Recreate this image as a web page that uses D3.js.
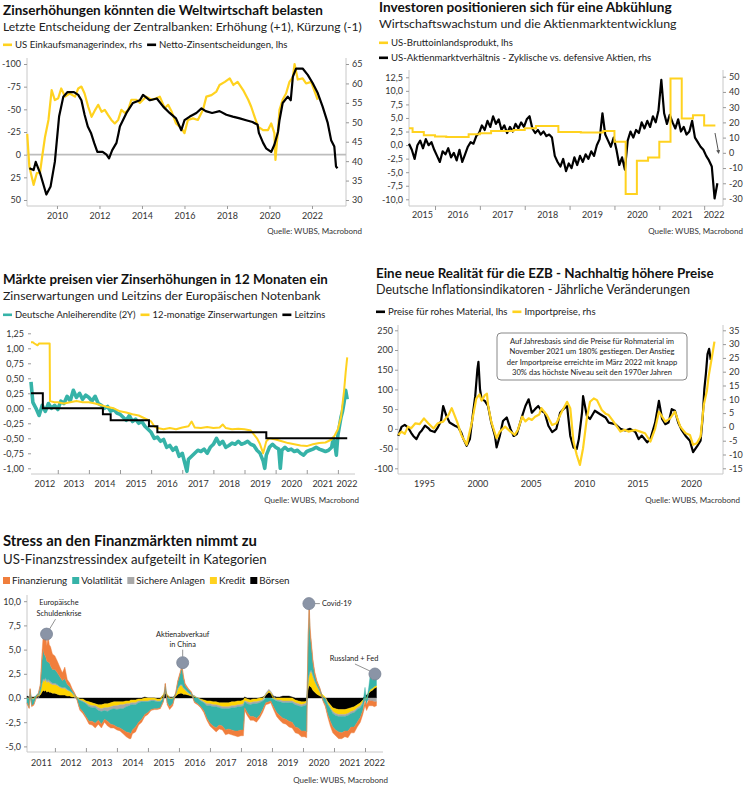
<!DOCTYPE html>
<html><head><meta charset="utf-8">
<script src="https://cdn.jsdelivr.net/npm/d3@7"></script>
<style>
body{margin:0;background:#fff;}
svg{font-family:Lato,"Noto Sans",sans-serif;}
</style></head><body>
<svg id="c" width="750" height="788"></svg>
<script>
// ---------------- DATA ----------------
// Panel 1: [year, value]
const pmi = [[2008.6,47],[2008.7,38.6],[2008.9,33.9],[2009.05,36.9],[2009.2,37],[2009.3,41],[2009.44,46.3],[2009.6,50.6],[2009.75,58.3],[2009.9,55.7],[2010.06,56.2],[2010.2,58.7],[2010.38,56.6],[2010.6,57.4],[2010.85,56.6],[2011.0,58.7],[2011.15,59.2],[2011.3,57.4],[2011.47,54],[2011.63,51.4],[2011.8,53.2],[2011.94,54.5],[2012.1,52.7],[2012.25,53.2],[2012.4,51.9],[2012.56,50.6],[2012.72,49.7],[2012.88,50.6],[2013.03,53.2],[2013.2,52.4],[2013.35,53.2],[2013.5,55.8],[2013.74,55.8],[2013.9,55],[2014.05,55.8],[2014.2,56.6],[2014.45,55.8],[2014.68,56.2],[2014.84,56.6],[2015.07,53.6],[2015.23,54.5],[2015.4,52.7],[2015.6,49.7],[2015.85,48.5],[2016.0,47.2],[2016.16,50.6],[2016.4,51],[2016.63,50.6],[2016.87,53.2],[2017.03,56.6],[2017.27,57],[2017.5,57.9],[2017.65,59.6],[2017.9,60.4],[2018.13,61.3],[2018.3,59.6],[2018.5,60.4],[2018.76,58.3],[2019.0,55.8],[2019.14,54],[2019.3,51.4],[2019.46,48.9],[2019.7,48],[2019.93,48],[2020.08,49.7],[2020.23,47.2],[2020.28,40.3],[2020.4,48],[2020.47,53.2],[2020.62,55.8],[2020.78,57.4],[2020.94,60.4],[2021.1,61.6],[2021.18,65],[2021.33,61],[2021.56,61.3],[2021.72,60],[2021.96,60.4],[2022.1,58.3],[2022.27,55.8]];
const netRate = [[2008.7,15],[2008.9,17],[2009.0,8],[2009.2,20],[2009.5,44],[2009.7,35],[2009.9,8],[2010.1,-42],[2010.3,-64],[2010.5,-69],[2010.8,-69],[2011.0,-66],[2011.15,-60],[2011.3,-44],[2011.45,-31],[2011.6,-24],[2011.75,-13],[2011.9,-3],[2012.15,-3],[2012.33,0],[2012.45,4],[2012.55,-2],[2012.6,-5],[2012.8,-13],[2012.9,-24],[2012.96,-31],[2013.27,-46],[2013.57,-57],[2013.9,-60],[2014.05,-66],[2014.37,-60],[2014.7,-62],[2015.0,-53],[2015.3,-46],[2015.6,-40],[2015.85,-27],[2016.0,-38],[2016.25,-42],[2016.56,-46],[2016.8,-51],[2017.0,-48],[2017.3,-46],[2017.65,-48],[2017.97,-44],[2018.27,-42],[2018.6,-40],[2018.9,-38],[2019.2,-36],[2019.44,-33],[2019.5,-24],[2019.7,-13],[2019.84,-7],[2020.08,-3],[2020.23,-11],[2020.4,-25],[2020.47,-38],[2020.62,-57],[2020.86,-64],[2021.0,-60],[2021.1,-86],[2021.25,-95],[2021.56,-95],[2021.8,-88],[2022.03,-79],[2022.27,-68],[2022.5,-53],[2022.74,-35],[2022.9,-16],[2023.05,-9],[2023.13,13],[2023.2,15]];

// Panel 2
const gdpDates = [2015.42,2015.5,2015.75,2016.0,2016.25,2016.5,2016.75,2017.0,2017.25,2017.5,2017.75,2018.0,2018.25,2018.5,2018.75,2019.0,2019.25,2019.5,2019.75,2020.0,2020.25,2020.5,2020.75,2021.0,2021.25,2021.5,2021.75,2022.0,2022.25];
const gdpValues = [3.1,2.4,1.8,1.6,1.5,1.5,2.0,2.2,2.6,2.6,2.8,3.1,3.5,3.5,2.4,2.4,2.3,2.3,2.6,0.6,-9.0,-2.9,-2.3,0.6,12.3,4.9,5.5,3.6,3.6];
const cycStart = 2015.42, cycStep = 0.0625;
const cycValues = [6,2,-4,5,8,3,9,5,7,2,-2,-6,1,-1,3,-3,0,-5,2,-6,-1,4,7,6,11,13,18,15,21,17,24,19,22,15,18,13,17,14,19,16,20,17,22,24,16,13,15,12,14,11,12,10,-2,-6,-9,-4,-12,-7,-10,-3,-8,-2,-6,-1,-4,1,-2,5,9,26,12,8,4,10,2,-8,-3,-11,8,14,10,15,13,20,16,21,17,24,20,28,48,26,19,25,20,16,22,14,17,12,14,21,10,7,4,2,-2,-5,-9,-30,-20];

// Panel 3
const bund2y = [[2012.14,0.44],[2012.2,0.10],[2012.3,0.0],[2012.4,-0.12],[2012.5,0.05],[2012.6,-0.05],[2012.7,0.08],[2012.8,0.0],[2012.9,0.05],[2013.0,-0.02],[2013.1,0.12],[2013.2,0.08],[2013.3,0.2],[2013.4,0.12],[2013.5,0.3],[2013.6,0.18],[2013.7,0.25],[2013.8,0.15],[2013.9,0.22],[2014.0,0.18],[2014.1,0.12],[2014.2,0.2],[2014.3,0.08],[2014.4,0.05],[2014.5,0.0],[2014.6,0.03],[2014.7,-0.05],[2014.8,-0.02],[2014.9,-0.08],[2015.0,-0.1],[2015.1,-0.15],[2015.2,-0.2],[2015.3,-0.12],[2015.4,-0.22],[2015.5,-0.18],[2015.6,-0.25],[2015.7,-0.22],[2015.8,-0.3],[2015.9,-0.35],[2016.0,-0.4],[2016.1,-0.5],[2016.2,-0.48],[2016.3,-0.55],[2016.4,-0.52],[2016.5,-0.65],[2016.6,-0.62],[2016.7,-0.7],[2016.8,-0.65],[2016.9,-0.8],[2017.0,-0.75],[2017.1,-0.95],[2017.15,-1.05],[2017.2,-0.85],[2017.3,-0.8],[2017.4,-0.75],[2017.5,-0.7],[2017.6,-0.72],[2017.7,-0.68],[2017.8,-0.75],[2017.9,-0.65],[2018.0,-0.6],[2018.1,-0.5],[2018.2,-0.6],[2018.3,-0.55],[2018.4,-0.65],[2018.5,-0.62],[2018.6,-0.58],[2018.7,-0.6],[2018.8,-0.55],[2018.9,-0.6],[2019.0,-0.58],[2019.1,-0.55],[2019.2,-0.6],[2019.3,-0.62],[2019.4,-0.7],[2019.5,-0.75],[2019.6,-0.88],[2019.65,-1.0],[2019.7,-0.78],[2019.8,-0.65],[2019.9,-0.6],[2020.0,-0.65],[2020.1,-0.68],[2020.15,-1.0],[2020.2,-0.7],[2020.3,-0.65],[2020.4,-0.7],[2020.5,-0.68],[2020.6,-0.72],[2020.7,-0.7],[2020.8,-0.75],[2020.9,-0.78],[2021.0,-0.72],[2021.1,-0.7],[2021.2,-0.68],[2021.3,-0.65],[2021.4,-0.68],[2021.5,-0.7],[2021.6,-0.72],[2021.7,-0.7],[2021.8,-0.65],[2021.85,-0.5],[2021.9,-0.6],[2021.95,-0.78],[2022.0,-0.45],[2022.05,-0.3],[2022.1,-0.15],[2022.15,-0.05],[2022.2,0.1],[2022.25,0.3],[2022.3,0.15]];
const rateExp = [[2012.14,1.1],[2012.2,1.1],[2012.25,1.08],[2012.35,1.05],[2012.4,1.08],[2012.5,1.08],[2012.6,1.08],[2012.74,1.08],[2012.75,0.12],[2012.9,0.1],[2013.0,0.1],[2013.2,0.08],[2013.4,0.1],[2013.6,0.12],[2013.8,0.1],[2014.0,0.1],[2014.2,0.08],[2014.4,0.05],[2014.6,0.02],[2014.8,0.0],[2015.0,-0.05],[2015.2,-0.07],[2015.4,-0.1],[2015.6,-0.12],[2015.8,-0.17],[2016.0,-0.22],[2016.1,-0.3],[2016.2,-0.33],[2016.4,-0.35],[2016.6,-0.33],[2016.8,-0.35],[2017.0,-0.32],[2017.2,-0.3],[2017.3,-0.22],[2017.4,-0.32],[2017.6,-0.33],[2017.8,-0.31],[2018.0,-0.33],[2018.2,-0.32],[2018.3,-0.27],[2018.4,-0.33],[2018.6,-0.35],[2018.8,-0.34],[2019.0,-0.35],[2019.2,-0.37],[2019.4,-0.5],[2019.5,-0.6],[2019.6,-0.75],[2019.7,-0.55],[2019.8,-0.5],[2020.0,-0.52],[2020.2,-0.55],[2020.4,-0.58],[2020.6,-0.6],[2020.8,-0.62],[2021.0,-0.63],[2021.2,-0.6],[2021.4,-0.58],[2021.6,-0.57],[2021.8,-0.52],[2021.9,-0.45],[2022.0,-0.35],[2022.1,-0.15],[2022.2,0.3],[2022.25,0.6],[2022.3,0.85]];
const policyRate = [[2012.14,0.25],[2012.52,0.0],[2014.45,-0.1],[2014.7,-0.2],[2015.93,-0.3],[2016.2,-0.4],[2019.7,-0.5],[2022.3,-0.5]];

// Panel 4
const rawMat = [[1992.6,-18],[1992.9,5],[1993.2,10],[1993.5,4],[1993.8,-10],[1994.0,-18],[1994.3,-26],[1994.6,-10],[1994.8,-4],[1995.1,8],[1995.4,2],[1995.6,-4],[1996.0,-8],[1996.3,4],[1996.6,20],[1996.8,58],[1997.1,33],[1997.4,16],[1997.9,8],[1998.2,4],[1998.5,-10],[1998.7,-26],[1999.0,-43],[1999.3,-26],[1999.6,41],[1999.8,83],[2000.0,150],[2000.1,170],[2000.25,100],[2000.4,75],[2000.7,71],[2001.0,58],[2001.3,16],[2001.65,-18],[2001.8,-47],[2002.1,-18],[2002.4,20],[2002.75,29],[2003.1,0],[2003.4,-18],[2003.7,-13],[2004.2,33],[2004.5,58],[2004.8,75],[2005.1,41],[2005.4,50],[2005.7,58],[2006.0,46],[2006.3,41],[2006.65,8],[2007.0,-8],[2007.4,0],[2007.75,41],[2008.05,50],[2008.4,58],[2008.7,-18],[2009.0,-47],[2009.3,-51],[2009.5,-26],[2009.8,41],[2009.9,83],[2010.25,33],[2010.55,25],[2011.0,46],[2011.5,37],[2012.0,29],[2012.3,16],[2012.9,12],[2013.4,0],[2013.85,-4],[2014.3,0],[2014.8,-8],[2015.1,-26],[2015.4,-17],[2015.9,-34],[2016.2,-26],[2016.65,16],[2017.0,71],[2017.3,25],[2017.6,12],[2017.9,16],[2018.2,50],[2018.5,46],[2018.8,16],[2019.15,-4],[2019.5,-18],[2019.9,-30],[2020.2,-59],[2020.6,-43],[2020.9,-30],[2021.1,30],[2021.25,100],[2021.4,140],[2021.55,190],[2021.7,203],[2021.85,175]];
const importPrices = [[1992.6,-2.9],[1992.9,-1.7],[1993.2,-2.5],[1993.5,0.1],[1993.8,-0.5],[1994.2,1.3],[1994.6,1.0],[1995.0,3.1],[1995.4,1.3],[1995.9,-0.6],[1996.3,1.3],[1996.8,1.9],[1997.3,4.3],[1997.6,6.8],[1998.1,1.9],[1998.5,-2.9],[1999.0,-6.5],[1999.5,1.9],[1999.9,10.3],[2000.2,11.8],[2000.4,9.5],[2000.7,11.5],[2000.9,12.0],[2001.0,7.9],[2001.3,1.9],[2001.8,-4.1],[2002.1,-1.7],[2002.6,0.1],[2003.1,-1.7],[2003.5,-2.9],[2003.8,-1.0],[2004.2,3.7],[2004.5,2.0],[2004.8,3.1],[2005.1,2.5],[2005.4,3.7],[2005.8,4.5],[2006.0,6.8],[2006.5,4.3],[2007.0,0.7],[2007.4,1.3],[2007.9,5.5],[2008.4,9.1],[2008.7,6.8],[2009.0,-5.3],[2009.3,-10.1],[2009.6,-13.8],[2009.9,-7.7],[2010.25,3.1],[2010.55,9.1],[2010.9,10.3],[2011.2,9.7],[2011.65,6.1],[2012.0,4.8],[2012.3,4.3],[2012.75,1.9],[2013.4,-1.7],[2013.8,-1.0],[2014.15,-1.7],[2014.8,-1.1],[2015.25,-1.7],[2015.7,-2.3],[2016.2,-5.3],[2016.65,-0.6],[2017.0,5.5],[2017.3,3.7],[2017.6,1.9],[2018.05,3.1],[2018.5,5.5],[2019.0,0.1],[2019.5,-2.3],[2019.9,-2.9],[2020.2,-6.5],[2020.55,-5.9],[2020.9,-3.5],[2021.2,7.9],[2021.5,13.3],[2021.65,18.2],[2021.95,25],[2022.2,30.9]];

// Panel 5: stacked categories
const stressKeys = ["Börsen","Kredit","Sichere Anlagen","Volatilität","Finanzierung"];
const stressDates = [2011.10,2011.17,2011.20,2011.25,2011.32,2011.40,2011.47,2011.53,2011.58,2011.62,2011.66,2011.70,2011.74,2011.78,2011.82,2011.86,2011.92,2012.00,2012.08,2012.16,2012.24,2012.32,2012.40,2012.48,2012.56,2012.64,2012.72,2012.80,2012.90,2013.00,2013.10,2013.20,2013.30,2013.40,2013.50,2013.60,2013.70,2013.80,2013.90,2014.00,2014.10,2014.20,2014.30,2014.40,2014.45,2014.50,2014.60,2014.70,2014.80,2014.90,2015.00,2015.10,2015.20,2015.30,2015.40,2015.50,2015.56,2015.62,2015.70,2015.80,2015.90,2015.96,2016.04,2016.10,2016.14,2016.20,2016.30,2016.40,2016.50,2016.60,2016.70,2016.80,2016.90,2017.00,2017.10,2017.20,2017.30,2017.40,2017.50,2017.60,2017.70,2017.80,2017.90,2018.00,2018.08,2018.12,2018.20,2018.30,2018.40,2018.50,2018.60,2018.70,2018.80,2018.90,2018.96,2019.05,2019.15,2019.25,2019.35,2019.45,2019.55,2019.65,2019.75,2019.85,2019.95,2020.05,2020.12,2020.14,2020.17,2020.20,2020.23,2020.27,2020.32,2020.38,2020.45,2020.55,2020.65,2020.72,2020.80,2020.88,2020.96,2021.05,2021.15,2021.25,2021.35,2021.45,2021.55,2021.65,2021.75,2021.85,2021.93,2022.00,2022.05,2022.12,2022.18,2022.24,2022.30,2022.37];
const boersen = [0.2,0.1,0.1,0.1,0.1,0.15,0.2,0.3,0.6,0.8,0.7,0.8,0.6,0.7,0.6,0.6,0.5,0.5,0.4,0.3,0.3,0.3,0.2,0.2,0.1,0.1,0.0,-0.1,-0.1,-0.3,-0.4,-0.5,-0.6,-0.7,-0.7,-0.6,-0.6,-0.5,-0.4,-0.4,-0.4,-0.4,-0.3,-0.3,-0.2,-0.2,-0.2,-0.1,-0.1,0.1,0,0,0,-0.1,-0.1,0.3,0.5,0.3,0.1,0.1,0.2,0.4,0.5,0.5,0.4,0.4,0.3,0.2,0.1,0,-0.1,-0.2,-0.3,-0.3,-0.4,-0.4,-0.5,-0.5,-0.5,-0.5,-0.4,-0.4,-0.3,-0.3,-0.2,0.1,-0.1,-0.2,-0.1,-0.1,0,0.1,0.3,0.6,0.5,0.2,0.1,0.1,0.2,0.2,0.2,0.1,-0.2,-0.3,-0.4,-0.4,-0.3,0.3,1.0,1.3,1.2,1.1,0.8,0.6,0.4,0.2,0.1,-0.1,-0.4,-0.7,-1.0,-1.1,-1.2,-1.2,-1.2,-1.1,-1.0,-0.9,-0.7,-0.5,-0.2,0.2,0.3,0.5,0.7,0.8,1.0,1.1];
const kredit = [0,-0.1,0,-0.1,-0.1,0.05,0.1,0.3,0.8,1.0,1.0,1.1,1.0,1.0,1.0,0.9,0.9,0.9,0.9,0.8,0.7,0.7,0.6,0.5,0.4,0.2,0.1,-0.1,-0.2,-0.2,-0.3,-0.3,-0.2,-0.3,-0.4,-0.4,-0.4,-0.4,-0.4,-0.4,-0.3,-0.3,-0.3,-0.3,-0.3,-0.3,-0.3,-0.2,-0.2,-0.3,-0.3,-0.2,-0.2,-0.2,-0.2,0.1,0.3,0.1,-0.1,-0.1,0.2,0.5,0.8,0.8,0.6,0.4,0.2,0.1,0.1,0,-0.1,-0.2,-0.3,-0.3,-0.3,-0.3,-0.3,-0.4,-0.4,-0.4,-0.4,-0.4,-0.4,-0.4,-0.4,-0.3,-0.3,-0.3,-0.3,-0.3,-0.3,-0.2,0.1,0.2,0.1,-0.1,-0.2,-0.2,-0.3,-0.3,-0.3,-0.3,-0.3,-0.3,-0.3,-0.2,-0.2,0.3,0.8,1.0,1.4,1.6,1.4,1.1,0.8,0.4,0.2,0.1,-0.2,-0.3,-0.4,-0.5,-0.5,-0.5,-0.5,-0.5,-0.4,-0.4,-0.3,-0.3,-0.2,-0.1,-0.1,0.1,0.2,0.2,0.2,0.2];
const sichere = [0,0,0,0,-0.05,0,0,0.05,0.15,0.2,0.2,0.2,0.2,0.2,0.2,0.2,0.15,0.15,0.1,0.1,0.1,0.1,0.1,0.05,0.05,0,0,-0.05,-0.1,-0.1,-0.2,-0.2,-0.2,-0.3,-0.3,-0.3,-0.4,-0.3,-0.3,-0.4,-0.4,-0.4,-0.3,-0.2,-0.2,-0.2,-0.2,-0.2,-0.1,-0.1,-0.1,-0.1,-0.1,-0.1,-0.1,0,0.05,0,0,0,0.05,0.1,0.1,0.1,0.1,0.1,0.1,0.05,0.05,0,-0.1,-0.1,-0.2,-0.2,-0.2,-0.2,-0.2,-0.2,-0.2,-0.2,-0.2,-0.2,-0.2,-0.2,-0.2,-0.1,-0.2,-0.2,-0.2,-0.2,-0.2,-0.1,0.1,0.1,0.1,0.05,-0.1,-0.2,-0.2,-0.2,-0.2,-0.2,-0.2,-0.2,-0.2,-0.2,-0.2,0.1,0.2,0.2,0.2,0.2,0.2,0.1,0.1,0.1,0,0,-0.1,-0.1,-0.2,-0.2,-0.2,-0.2,-0.2,-0.2,-0.2,-0.2,-0.2,-0.2,-0.2,-0.2,-0.2,-0.2,-0.3,-0.3,-0.4,-0.4];
const volatil = [-0.5,-0.9,0.8,-0.7,-0.5,0.1,0.2,0.6,2.2,3.0,2.6,2.2,2.0,1.8,1.9,1.6,1.4,1.4,1.2,1.0,0.7,0.9,0.5,0.4,0.2,0.1,-0.2,-0.8,-1.0,-1.3,-1.5,-1.4,-1.6,-1.0,-1.3,-0.9,-1.0,-1.5,-1.7,-1.8,-2.0,-2.2,-2.6,-2.8,-3.0,-2.6,-2.3,-2.0,-1.8,-1.3,-1.1,-0.9,-0.8,-0.7,-0.6,-0.3,0.6,-0.5,-0.8,-0.5,0.1,0.6,1.1,1.8,1.0,0.4,0.3,0.2,-0.4,-0.6,-0.6,-0.8,-1.3,-1.8,-2.0,-2.2,-1.8,-1.8,-2.2,-2.1,-2.3,-2.4,-2.5,-2.4,-2.5,-0.6,-0.9,-1.2,-1.3,-1.5,-1.3,-0.9,-0.5,-0.4,-0.3,-0.8,-1.2,-1.4,-1.6,-1.7,-1.9,-2.0,-2.3,-2.3,-2.5,-2.6,-2.8,1.0,4.5,6.7,3.8,2.4,1.2,0.6,0.3,0.2,-0.3,-0.6,-1.0,-1.3,-1.4,-1.5,-1.6,-1.7,-1.5,-1.6,-1.4,-1.5,-1.3,-1.0,-0.7,0.9,-0.4,0.5,1.8,0.8,1.5,1.3];
const finanz = [-0.1,-0.1,0.1,-0.1,-0.1,0,0.05,0.2,0.8,1.4,1.6,2.4,1.6,2.7,1.8,2.0,1.6,1.4,1.2,1.0,0.8,1.2,0.5,0.4,0.2,0.1,-0.1,-0.2,-0.2,-0.2,-0.3,-0.4,-0.5,-0.4,-0.4,-0.3,-0.5,-0.4,-0.3,-0.3,-0.3,-0.4,-0.5,-0.6,-0.5,-0.4,-0.5,-0.3,-0.3,-0.2,-0.2,-0.1,-0.1,-0.1,-0.1,-0.1,0.1,-0.2,-0.3,-0.2,0.1,0.2,0.2,0.2,0.3,0.2,0.1,0.1,-0.1,-0.1,-0.1,-0.2,-0.2,-0.3,-0.3,-0.4,-0.4,-0.4,-0.5,-0.5,-0.5,-0.5,-0.6,-0.6,-0.6,-0.3,-0.3,-0.4,-0.4,-0.4,-0.3,-0.3,-0.2,-0.2,-0.2,-0.3,-0.4,-0.5,-0.5,-0.5,-0.6,-0.6,-0.6,-0.6,-0.6,-0.6,-0.6,0.3,0.5,0.5,0.6,0.5,0.4,0.3,0.2,0.1,-0.1,-0.2,-0.3,-0.5,-0.6,-0.6,-0.7,-0.6,-0.6,-0.7,-0.6,-0.6,-0.5,-0.5,-0.4,-0.5,-0.6,-0.6,-0.5,-0.5,-0.5,-0.4];

// ---------------- STYLE ----------------
const C = {yellow:"#FFD21F", black:"#000", teal:"#36B3A8", orange:"#F07E3C", gray:"#A8A8A8", axis:"#C8C8C8", text:"#333"};
const loc = d3.formatLocale({decimal:",",thousands:".",grouping:[3],currency:["","€"],minus:"-"});
const f0 = loc.format("d"), f1 = loc.format(".1f"), f2 = loc.format(".2f");
const svg = d3.select("#c");
svg.append("rect").attr("width",750).attr("height",788).attr("fill","#fff");

function txt(x,y,s,size,opt={}){
  const t = svg.append("text").attr("x",x).attr("y",y).attr("font-size",size)
    .attr("font-weight",opt.weight||"normal").attr("fill",opt.fill||"#111")
    .attr("text-anchor",opt.anchor||"start").text(s);
  if(opt.fit){ const w=t.node().getComputedTextLength(); t.attr("font-size",size*opt.fit/w); }
  return t;
}
function legend(items,x,y,size,kind){
  let cx=x;
  items.forEach(it=>{
    if(kind==="square"){ svg.append("rect").attr("x",cx).attr("y",y-7).attr("width",7).attr("height",7).attr("fill",it.color); cx+=9; }
    else { svg.append("line").attr("x1",cx).attr("x2",cx+9).attr("y1",y-3.2).attr("y2",y-3.2).attr("stroke",it.color).attr("stroke-width",2.6); cx+=12; }
    const t=svg.append("text").attr("x",cx).attr("y",y).attr("font-size",size).attr("fill","#222").text(it.label);
    cx+=t.node().getComputedTextLength()+5;
  });
}
function styleAxis(g,size){
  g.select(".domain").remove();
  g.selectAll(".tick line").attr("stroke","#999");
  g.selectAll(".tick text").attr("font-size",size).attr("fill",C.text).attr("font-family","Lato");
}
function vline(x,y1,y2){ svg.append("line").attr("x1",x).attr("x2",x).attr("y1",y1).attr("y2",y2).attr("stroke",C.axis).attr("stroke-width",1); }
function hline(y,x1,x2){ svg.append("line").attr("x1",x1).attr("x2",x2).attr("y1",y).attr("y2",y).attr("stroke",C.axis).attr("stroke-width",1); }
function yearAxis(x, y0, d0, d1, tickSize, labelY, size){
  const bounds=d3.range(Math.ceil(d0),Math.floor(d1)+1);
  const gt=svg.append("g").attr("transform",`translate(0,${y0})`).call(d3.axisBottom(x).tickValues(bounds).tickSize(tickSize).tickFormat(""));
  styleAxis(gt,size);
  const mids=d3.range(Math.floor(d0),Math.floor(d1)+1).map(yr=>(Math.max(yr,d0)+Math.min(yr+1,d1))/2);
  const gl=svg.append("g").attr("transform",`translate(0,${labelY})`).call(d3.axisBottom(x).tickValues(mids).tickSize(0).tickPadding(0).tickFormat(v=>String(Math.floor(v))));
  styleAxis(gl,size);
}
function source(xr,y){ txt(xr,y,"Quelle: WUBS, Macrobond",8,{anchor:"end",fill:"#333"}); }
const TICK=9;

// ================= PANEL 1 =================
txt(3,15,"Zinserhöhungen könnten die Weltwirtschaft belasten",14,{weight:"bold",fit:320});
txt(3,31,"Letzte Entscheidung der Zentralbanken: Erhöhung (+1), Kürzung (-1)",12.5,{fit:359,fill:"#222"});
legend([{label:"US Einkaufsmanagerindex, rhs",color:C.yellow},{label:"Netto-Zinsentscheidungen, lhs",color:C.black}],3,48,9.6,"line");
{
  const x=d3.scaleLinear().domain([2008.59,2023.6]).range([27,346]);
  const yL=d3.scaleLinear().domain([-100,50]).range([64,200]);
  const yR=d3.scaleLinear().domain([65,30]).range([64,200]);
  vline(27,58,206); vline(346,58,206); hline(206,27,346);
  svg.append("line").attr("x1",27).attr("x2",346).attr("y1",yL(0)).attr("y2",yL(0)).attr("stroke","#BDBDBD").attr("stroke-width",1.8);
  styleAxis(svg.append("g").attr("transform","translate(27,0)").call(d3.axisLeft(yL).tickValues([-100,-75,-50,-25,0,25,50]).tickFormat(f0).tickSize(3).tickPadding(3)),TICK);
  styleAxis(svg.append("g").attr("transform","translate(346,0)").call(d3.axisRight(yR).tickValues([30,35,40,45,50,55,60,65]).tickFormat(f0).tickSize(3).tickPadding(3)),TICK);
  styleAxis(svg.append("g").attr("transform","translate(0,206)").call(d3.axisBottom(x).tickValues([2010,2012,2014,2016,2018,2020,2022]).tickFormat(f0).tickSize(3).tickPadding(4)),TICK);
  svg.append("path").datum(pmi).attr("fill","none").attr("stroke",C.yellow).attr("stroke-width",2.2).attr("stroke-linejoin","round")
    .attr("d",d3.line().x(d=>x(d[0])).y(d=>yR(d[1])));
  svg.append("path").datum(netRate).attr("fill","none").attr("stroke",C.black).attr("stroke-width",2.2).attr("stroke-linejoin","round")
    .attr("d",d3.line().x(d=>x(d[0])).y(d=>yL(d[1])));
  source(362,234);
}

// ================= PANEL 2 =================
txt(379,12,"Investoren positionieren sich für eine Abkühlung",14,{weight:"bold",fit:293});
txt(379,27.5,"Wirtschaftswachstum und die Aktienmarktentwicklung",12.5,{fit:298,fill:"#222"});
legend([{label:"US-Bruttoinlandsprodukt, lhs",color:C.yellow}],379,46,9.6,"line");
legend([{label:"US-Aktienmarktverhältnis - Zyklische vs. defensive Aktien, rhs",color:C.black}],379,61,9.6,"line");
{
  const d0=2015.42,d1=2022.42;
  const x=d3.scaleLinear().domain([d0,d1]).range([409,723]);
  const yL=d3.scaleLinear().domain([-10,12.5]).range([199.3,77.3]);
  const yR=d3.scaleLinear().domain([-30,50]).range([198.5,76.7]);
  vline(409,70,206); vline(723,70,206); hline(206,409,723);
  styleAxis(svg.append("g").attr("transform","translate(409,0)").call(d3.axisLeft(yL).tickValues(d3.range(-10,12.6,2.5)).tickFormat(f1).tickSize(3).tickPadding(3)),TICK);
  styleAxis(svg.append("g").attr("transform","translate(723,0)").call(d3.axisRight(yR).tickValues(d3.range(-30,51,10)).tickFormat(f0).tickSize(3).tickPadding(3)),TICK);
  yearAxis(x,206,d0,d1,4,212,TICK);
  const cyc=cycValues.map((v,i)=>[cycStart+i*cycStep,v]);
  svg.append("path").datum(cyc).attr("fill","none").attr("stroke",C.black).attr("stroke-width",2.2).attr("stroke-linejoin","round")
    .attr("d",d3.line().x(d=>x(d[0])).y(d=>yR(d[1])));
  const gdp=gdpDates.map((d,i)=>[d,gdpValues[i]]);
  svg.append("path").datum(gdp).attr("fill","none").attr("stroke",C.yellow).attr("stroke-width",2)
    .attr("d",d3.line().curve(d3.curveStepAfter).x(d=>x(d[0])).y(d=>yL(d[1])));
  const defs=svg.append("defs");
  defs.append("marker").attr("id","arr").attr("viewBox","0 0 10 10").attr("refX",5).attr("refY",5).attr("markerWidth",4).attr("markerHeight",4).attr("orient","auto")
    .append("path").attr("d","M0,0L10,5L0,10z").attr("fill","#555");
  svg.append("line").attr("x1",715).attr("y1",133).attr("x2",718.5).attr("y2",152).attr("stroke","#555").attr("stroke-width",1).attr("marker-end","url(#arr)");
  source(743,234);
}

// ================= PANEL 3 =================
txt(3,284,"Märkte preisen vier Zinserhöhungen in 12 Monaten ein",14,{weight:"bold",fit:325});
txt(3,299.5,"Zinserwartungen und Leitzins der Europäischen Notenbank",12.5,{fit:318,fill:"#222"});
legend([{label:"Deutsche Anleiherendite (2Y)",color:C.teal},{label:"12-monatige Zinserwartungen",color:C.yellow},{label:"Leitzins",color:C.black}],3,318,9.4,"line");
{
  const d0=2012.14,d1=2022.55;
  const x=d3.scaleLinear().domain([d0,d1]).range([31,355]);
  const y=d3.scaleLinear().domain([-1,1.25]).range([468.3,333.3]);
  hline(474,31,355);
  styleAxis(svg.append("g").attr("transform","translate(31,0)").call(d3.axisLeft(y).tickValues(d3.range(-1,1.26,0.25)).tickFormat(f2).tickSize(3).tickPadding(4)),TICK);
  yearAxis(x,474,d0,d1,-4,481,TICK);
  svg.append("path").datum(bund2y).attr("fill","none").attr("stroke",C.teal).attr("stroke-width",3.6).attr("stroke-linejoin","round")
    .attr("d",d3.line().x(d=>x(d[0])).y(d=>y(d[1])));
  svg.append("path").datum(rateExp).attr("fill","none").attr("stroke",C.yellow).attr("stroke-width",2).attr("stroke-linejoin","round")
    .attr("d",d3.line().x(d=>x(d[0])).y(d=>y(d[1])));
  svg.append("path").datum(policyRate).attr("fill","none").attr("stroke",C.black).attr("stroke-width",2)
    .attr("d",d3.line().curve(d3.curveStepAfter).x(d=>x(d[0])).y(d=>y(d[1])));
  source(359,503);
}

// ================= PANEL 4 =================
txt(376,278,"Eine neue Realität für die EZB - Nachhaltig höhere Preise",14,{weight:"bold",fit:338});
txt(376,294,"Deutsche Inflationsindikatoren - Jährliche Veränderungen",12.5,{fit:314,fill:"#222"});
legend([{label:"Preise für rohes Material, lhs",color:C.black},{label:"Importpreise, rhs",color:C.yellow}],376,315,9.6,"line");
{
  const x=d3.scaleLinear().domain([1992.57,2023.0]).range([398,723]);
  const yL=d3.scaleLinear().domain([-100,250]).range([468.3,330.3]);
  const yR=d3.scaleLinear().domain([-15,35]).range([468.3,330.3]);
  vline(398,325,474); vline(723,325,474); hline(474,398,723);
  styleAxis(svg.append("g").attr("transform","translate(398,0)").call(d3.axisLeft(yL).tickValues(d3.range(-100,251,50)).tickFormat(f0).tickSize(3).tickPadding(2)),TICK);
  styleAxis(svg.append("g").attr("transform","translate(723,0)").call(d3.axisRight(yR).tickValues(d3.range(-15,36,5)).tickFormat(f0).tickSize(3).tickPadding(3)),TICK);
  styleAxis(svg.append("g").attr("transform","translate(0,474)").call(d3.axisBottom(x).tickValues([1995,2000,2005,2010,2015,2020]).tickFormat(f0).tickSize(0).tickPadding(7)),TICK);
  svg.append("path").datum(rawMat).attr("fill","none").attr("stroke",C.black).attr("stroke-width",2.2).attr("stroke-linejoin","round")
    .attr("d",d3.line().x(d=>x(d[0])).y(d=>yL(d[1])));
  svg.append("path").datum(importPrices).attr("fill","none").attr("stroke",C.yellow).attr("stroke-width",2.2).attr("stroke-linejoin","round")
    .attr("d",d3.line().x(d=>x(d[0])).y(d=>yR(d[1])));
  svg.append("rect").attr("x",497).attr("y",333).attr("width",190).attr("height",47).attr("rx",4).attr("fill","#fff").attr("stroke","#888").attr("stroke-width",1);
  const lines=["Auf Jahresbasis sind die Preise für Rohmaterial im","November 2021 um 180% gestiegen. Der Anstieg","der Importpreise erreichte im März 2022 mit knapp","30% das höchste Niveau seit den 1970er Jahren"];
  lines.forEach((l,i)=>txt(592,344+i*10.3,l,7.6,{anchor:"middle",fill:"#222"}));
  source(740,503);
}

// ================= PANEL 5 =================
txt(3,546,"Stress an den Finanzmärkten nimmt zu",14,{weight:"bold",fit:254});
txt(3,564,"US-Finanzstressindex aufgeteilt in Kategorien",12.5,{fit:264,fill:"#222"});
legend([{label:"Finanzierung",color:C.orange},{label:"Volatilität",color:C.teal},{label:"Sichere Anlagen",color:C.gray},{label:"Kredit",color:C.yellow},{label:"Börsen",color:C.black}],3,584,9.8,"square");
{
  const d0=2011.1,d1=2022.58;
  const x=d3.scaleLinear().domain([d0,d1]).range([27,383]);
  const y=d3.scaleLinear().domain([-5,10]).range([746.4,601.2]);
  vline(27,595,752); hline(752,27,383);
  styleAxis(svg.append("g").attr("transform","translate(27,0)").call(d3.axisLeft(y).tickValues(d3.range(-5,10.1,2.5)).tickFormat(f1).tickSize(3).tickPadding(3)),TICK);
  yearAxis(x,752,d0,d1,-4,760,TICK);
  const cols={"Börsen":C.black,"Kredit":"#FFD400","Sichere Anlagen":C.gray,"Volatilität":C.teal,"Finanzierung":C.orange};
  const vals={"Börsen":boersen,"Kredit":kredit,"Sichere Anlagen":sichere,"Volatilität":volatil,"Finanzierung":finanz};
  const rows=stressDates.map((d,i)=>{const r={date:d}; stressKeys.forEach(k=>r[k]=vals[k][i]); return r;});
  const series=d3.stack().keys(stressKeys).offset(d3.stackOffsetDiverging)(rows);
  const area=d3.area().x(d=>x(d.data.date)).y0(d=>y(d[0])).y1(d=>y(d[1]));
  svg.append("g").selectAll("path").data(series).join("path").attr("fill",s=>cols[s.key]).attr("stroke",s=>cols[s.key]).attr("stroke-width",0.4).attr("d",area);
  const ann=(cx,cy)=>svg.append("circle").attr("cx",cx).attr("cy",cy).attr("r",6).attr("fill","#8A94A6").attr("stroke","#7A8496").attr("stroke-width",0.8);
  const ln=(a,b,c,d)=>svg.append("line").attr("x1",a).attr("y1",b).attr("x2",c).attr("y2",d).attr("stroke","#777").attr("stroke-width",0.8);
  const AS=7.4;
  let cx=x(2011.73), cy=y(6.6); ln(cx+3,cy-5,cx+9,cy-15); ann(cx,cy);
  txt(59,605,"Europäische",AS,{anchor:"middle",fill:"#222"}); txt(59,616,"Schuldenkrise",AS,{anchor:"middle",fill:"#222"});
  cx=x(2016.12); cy=y(3.65); ln(cx,cy-6,cx,cy-13); ann(cx,cy);
  txt(cx,637,"Aktienabverkauf",AS,{anchor:"middle",fill:"#222"}); txt(cx,647,"in China",AS,{anchor:"middle",fill:"#222"});
  cx=x(2020.19); cy=y(9.75); ln(cx+6,cy,cx+11,cy); ann(cx,cy);
  txt(cx+13,cy+2.5,"Covid-19",AS,{fill:"#222"});
  cx=x(2022.32); cy=y(2.48); ln(cx-5,cy-3,cx-20,cy-10); ann(cx,cy);
  txt(354,661,"Russland + Fed",AS,{anchor:"middle",fill:"#222"});
  source(388,783);
}
</script></body></html>
